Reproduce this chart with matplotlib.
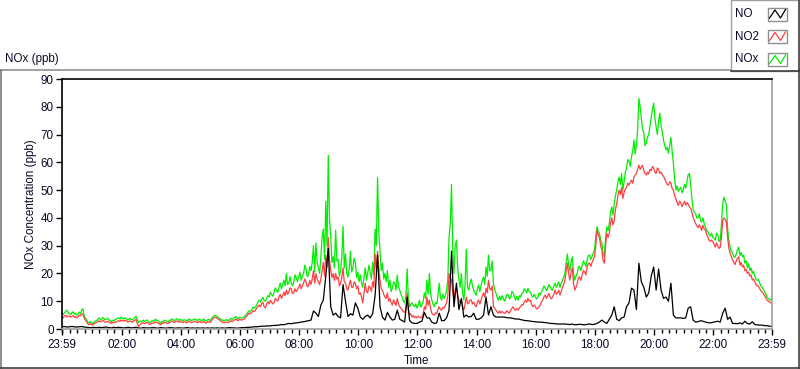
import numpy as np
import matplotlib
matplotlib.use("Agg")
import matplotlib.pyplot as plt
from matplotlib.patches import Rectangle
from matplotlib.lines import Line2D

plt.rcParams['font.family'] = ['Liberation Sans', 'DejaVu Sans']

# ---------------- data ----------------
# NOx and NO2: one row per hour, samples every 2.5 min after 23:59
# NO: one row per hour, samples every 5 min after 23:59
series_names = ["NO", "NO2", "NOx"]
series_colors = ["#000000", "#ff4040", "#00ee00"]

nox_rows = [
    [5.7, 5.2, 5.8, 6.4, 6.8, 5.9, 5.6, 5.2, 5.8, 6.2, 5.3, 5.7, 5.0, 5.4, 6.1, 5.6, 6.8, 7.3, 4.7, 4.0, 3.2, 2.5, 2.1, 2.6],
    [2.1, 1.9, 2.5, 2.9, 3.0, 3.5, 4.0, 3.4, 3.6, 4.1, 3.8, 3.3, 3.5, 3.9, 3.4, 3.0, 2.6, 3.1, 2.9, 3.4, 3.5, 3.8, 4.0, 3.6],
    [4.3, 3.9, 3.6, 4.0, 3.8, 3.2, 3.4, 3.9, 3.5, 3.2, 3.7, 4.1, 4.6, 3.4, 2.3, 2.9, 2.6, 2.9, 3.2, 2.7, 3.0, 3.3, 2.8, 2.3],
    [2.5, 3.0, 2.8, 3.2, 3.5, 3.1, 3.0, 2.5, 2.1, 2.8, 2.6, 3.2, 3.0, 2.7, 2.6, 3.0, 3.2, 3.6, 3.5, 3.0, 3.2, 3.7, 3.5, 3.1],
    [3.5, 3.2, 3.0, 3.4, 3.2, 2.9, 3.2, 3.6, 3.3, 3.0, 3.2, 3.5, 3.6, 3.3, 3.0, 3.5, 3.4, 3.0, 3.2, 3.6, 3.0, 2.8, 3.3, 3.5],
    [3.0, 3.5, 4.2, 4.6, 5.0, 4.8, 4.5, 4.0, 3.8, 3.4, 3.2, 3.0, 3.0, 3.4, 3.2, 3.0, 3.5, 3.8, 3.4, 3.9, 4.2, 4.5, 3.9, 3.7],
    [4.2, 4.0, 3.9, 4.3, 4.4, 5.0, 5.5, 6.2, 6.5, 6.4, 7.0, 7.9, 7.5, 8.0, 8.6, 9.8, 10.4, 9.7, 10.8, 11.4, 10.2, 10.0, 11.0, 12.0],
    [11.5, 13.2, 12.5, 11.8, 13.0, 14.8, 14.0, 13.2, 15.0, 16.5, 14.5, 15.8, 17.6, 15.5, 20.0, 16.0, 16.5, 18.8, 16.5, 15.5, 17.0, 19.5, 18.5, 17.0],
    [18.7, 20.5, 17.5, 19.0, 20.0, 23.0, 21.5, 18.8, 19.5, 22.5, 21.0, 24.0, 30.0, 20.5, 31.0, 24.0, 22.0, 20.0, 26.0, 33.0, 36.0, 25.0, 46.0, 30.0],
    [62.5, 40.0, 33.0, 24.0, 26.0, 22.0, 35.6, 24.5, 25.0, 19.0, 21.0, 26.0, 37.0, 22.0, 27.0, 20.0, 18.7, 21.5, 28.0, 20.5, 22.0, 25.5, 24.0, 18.5],
    [20.5, 17.0, 19.4, 16.5, 15.0, 18.5, 22.0, 17.5, 20.0, 23.0, 20.5, 18.0, 24.0, 19.5, 36.0, 30.0, 54.5, 35.0, 28.0, 21.0, 23.7, 18.0, 20.0, 17.0],
    [21.0, 15.0, 17.6, 13.5, 14.7, 17.0, 16.5, 14.0, 19.4, 15.0, 14.0, 12.5, 11.5, 10.0, 9.4, 12.0, 21.6, 11.0, 8.0, 9.0, 9.4, 8.5, 8.0, 9.0],
    [7.5, 8.5, 10.4, 8.0, 8.6, 10.0, 13.0, 11.0, 17.6, 12.5, 20.0, 13.0, 10.4, 9.0, 8.0, 9.5, 9.0, 12.0, 16.5, 11.5, 10.4, 12.5, 11.0, 12.0],
    [14.0, 18.0, 33.0, 38.0, 52.0, 28.0, 20.0, 30.0, 32.0, 22.0, 17.6, 15.0, 20.0, 13.0, 10.4, 16.0, 28.7, 15.0, 14.0, 16.5, 18.0, 15.5, 14.0, 13.0],
    [12.2, 14.5, 15.8, 13.5, 15.8, 17.5, 18.7, 16.0, 22.3, 19.0, 26.6, 21.0, 21.2, 24.5, 16.5, 14.0, 13.0, 11.5, 10.4, 11.8, 10.4, 12.0, 11.0, 10.0],
    [11.0, 12.5, 12.2, 10.8, 11.5, 13.5, 13.0, 11.5, 10.4, 11.8, 10.4, 12.0, 11.5, 12.8, 13.0, 14.5, 14.0, 13.0, 14.7, 13.5, 13.3, 12.0, 11.5, 12.5],
    [11.5, 10.8, 11.5, 13.0, 12.2, 13.5, 14.0, 15.5, 14.7, 13.8, 14.7, 16.0, 15.2, 14.2, 14.0, 15.5, 16.5, 15.0, 16.0, 17.0, 15.0, 16.5, 17.6, 18.5],
    [20.0, 24.0, 27.0, 23.0, 21.0, 24.0, 26.0, 20.0, 17.6, 19.0, 20.0, 22.5, 22.3, 21.0, 23.0, 24.5, 23.7, 22.5, 24.8, 26.5, 26.6, 25.0, 26.0, 27.5],
    [28.4, 33.0, 36.8, 35.0, 34.5, 32.0, 31.0, 27.0, 26.0, 33.0, 36.8, 35.5, 38.0, 42.0, 44.0, 41.0, 45.0, 48.0, 50.0, 53.0, 54.7, 52.0, 56.0, 50.0],
    [53.0, 56.5, 58.0, 61.0, 60.5, 58.5, 62.0, 64.0, 68.0, 63.0, 66.0, 71.6, 83.0, 80.0, 76.0, 72.0, 70.5, 66.0, 67.0, 69.0, 70.0, 73.0, 76.0, 79.0],
    [81.3, 76.0, 72.7, 70.0, 75.0, 77.7, 73.0, 71.0, 68.0, 66.0, 64.5, 65.5, 63.3, 66.0, 69.0, 64.0, 59.7, 54.0, 50.0, 51.5, 49.5, 50.5, 51.0, 49.0],
    [50.0, 52.0, 50.7, 53.0, 55.5, 56.0, 52.0, 47.0, 43.0, 42.0, 41.5, 40.0, 40.0, 41.5, 39.0, 38.5, 40.0, 38.0, 36.8, 35.5, 35.0, 34.0, 33.5, 34.5],
    [33.0, 32.5, 32.0, 34.5, 33.8, 31.5, 32.0, 38.0, 45.0, 47.5, 46.0, 44.6, 36.0, 32.0, 29.5, 28.0, 27.3, 26.0, 25.8, 27.0, 28.5, 29.5, 26.5, 27.5],
    [26.0, 26.6, 23.7, 24.5, 22.0, 23.5, 21.0, 22.0, 20.0, 20.8, 19.0, 18.0, 17.5, 17.8, 16.5, 15.5, 15.0, 14.2, 13.5, 12.5, 11.5, 11.0, 10.5, 10.4],
]
nox_end = 11.2

no2_rows = [
    [4.3, 4.0, 4.7, 4.9, 4.3, 4.6, 4.7, 4.3, 4.5, 4.8, 4.2, 4.5, 4.0, 4.4, 5.0, 4.7, 5.5, 5.2, 4.0, 3.3, 2.5, 1.9, 1.5, 1.8],
    [1.6, 1.4, 1.9, 2.2, 2.4, 2.6, 3.0, 2.6, 2.8, 3.1, 2.8, 2.5, 2.5, 2.8, 2.5, 2.3, 2.0, 2.4, 2.2, 2.6, 2.5, 2.8, 3.0, 2.7],
    [3.2, 3.0, 2.8, 3.1, 3.0, 2.6, 2.6, 2.9, 2.7, 2.4, 2.8, 3.1, 3.5, 2.2, 0.8, 1.4, 1.8, 2.1, 2.3, 1.9, 2.2, 2.4, 2.0, 1.6],
    [1.8, 2.2, 2.0, 2.4, 2.6, 2.3, 2.2, 1.8, 1.5, 2.1, 2.0, 2.4, 2.3, 2.0, 2.0, 2.4, 2.5, 2.9, 2.7, 2.3, 2.5, 2.9, 2.8, 2.4],
    [2.8, 2.5, 2.3, 2.7, 2.5, 2.2, 2.6, 2.9, 2.5, 2.3, 2.4, 2.7, 2.8, 2.5, 2.2, 2.7, 2.6, 2.3, 2.5, 2.8, 2.3, 2.1, 2.5, 2.7],
    [2.3, 2.8, 3.5, 3.9, 4.3, 4.1, 3.8, 3.4, 3.2, 2.8, 2.5, 2.3, 2.2, 2.6, 2.5, 2.3, 2.7, 3.0, 2.6, 3.0, 3.3, 3.6, 3.2, 3.0],
    [3.5, 3.3, 3.2, 3.5, 3.6, 4.2, 4.8, 5.3, 5.8, 5.5, 6.0, 6.6, 6.3, 6.9, 7.5, 8.2, 8.6, 8.0, 9.2, 9.6, 8.0, 7.6, 9.0, 9.8],
    [9.0, 10.3, 9.7, 9.0, 9.4, 11.0, 10.5, 10.0, 11.5, 12.5, 11.0, 12.0, 13.3, 12.0, 14.0, 12.5, 13.3, 14.8, 14.5, 12.8, 13.0, 14.5, 13.5, 14.2],
    [15.0, 16.2, 14.5, 15.5, 16.5, 18.0, 17.0, 15.2, 15.5, 17.5, 16.0, 18.0, 21.0, 16.5, 20.0, 18.0, 17.0, 16.0, 18.0, 21.0, 24.0, 19.0, 26.6, 22.0],
    [33.0, 25.0, 21.0, 18.5, 20.0, 17.5, 20.0, 18.0, 18.7, 15.5, 16.5, 18.5, 22.0, 17.0, 16.5, 14.5, 14.0, 16.0, 17.6, 15.0, 15.0, 17.0, 16.5, 14.5],
    [15.5, 12.5, 13.0, 11.5, 9.4, 13.0, 16.5, 13.5, 13.0, 15.5, 15.0, 13.5, 17.0, 15.0, 27.0, 22.0, 28.0, 22.0, 17.6, 14.5, 14.0, 12.5, 11.5, 11.0],
    [13.0, 10.0, 11.0, 9.5, 8.6, 10.5, 9.4, 8.5, 11.0, 9.0, 8.0, 7.5, 6.8, 6.2, 6.0, 7.0, 13.0, 7.0, 5.0, 5.5, 4.3, 4.8, 4.0, 4.5],
    [4.0, 4.6, 4.3, 4.0, 4.3, 5.5, 8.0, 7.0, 11.5, 8.5, 10.4, 7.5, 5.7, 5.2, 5.0, 5.8, 5.5, 7.0, 8.0, 7.0, 6.8, 7.8, 7.5, 8.5],
    [9.4, 12.0, 20.0, 18.5, 17.6, 13.0, 10.4, 14.0, 15.0, 12.0, 10.4, 9.5, 10.4, 8.0, 6.8, 9.0, 11.5, 9.0, 9.4, 10.5, 10.4, 9.0, 9.7, 8.5],
    [8.0, 9.5, 10.4, 9.0, 10.4, 12.0, 13.0, 11.5, 14.7, 13.0, 17.6, 14.5, 14.0, 15.5, 8.0, 7.5, 6.8, 6.2, 5.7, 6.5, 5.7, 6.3, 6.0, 5.6],
    [6.0, 6.6, 6.0, 5.7, 6.8, 7.5, 8.0, 7.0, 6.8, 7.4, 6.8, 7.6, 8.0, 8.8, 8.6, 9.8, 10.4, 9.6, 11.0, 10.0, 10.4, 8.8, 8.0, 8.6],
    [8.0, 7.2, 7.5, 8.0, 8.6, 9.8, 10.4, 11.6, 12.2, 11.0, 12.0, 12.8, 11.5, 10.8, 11.5, 12.6, 14.0, 12.5, 13.0, 14.0, 12.2, 13.5, 15.0, 16.0],
    [17.6, 21.0, 23.7, 20.0, 17.6, 20.5, 22.0, 16.5, 14.0, 15.0, 16.5, 18.5, 18.7, 17.5, 19.5, 21.0, 20.5, 19.5, 22.3, 23.5, 23.7, 22.5, 24.0, 25.0],
    [26.0, 30.0, 35.6, 34.0, 33.0, 30.0, 28.4, 24.5, 23.7, 30.0, 34.5, 33.0, 34.5, 38.0, 40.0, 37.5, 39.0, 43.0, 45.0, 48.0, 50.0, 48.5, 51.0, 47.0],
    [49.0, 50.5, 51.0, 52.5, 51.8, 52.8, 53.6, 52.5, 54.7, 55.5, 56.0, 57.5, 59.0, 57.5, 58.3, 59.0, 57.2, 56.0, 55.4, 56.5, 55.8, 57.5, 57.0, 58.5],
    [57.9, 56.5, 56.0, 58.0, 57.5, 56.0, 56.5, 55.5, 55.0, 54.0, 53.0, 52.0, 51.8, 53.0, 52.5, 50.5, 50.0, 48.0, 47.0, 45.5, 44.5, 46.0, 45.5, 44.0],
    [45.0, 46.0, 44.6, 45.5, 45.0, 44.0, 43.5, 42.0, 40.3, 39.0, 38.0, 37.2, 36.5, 37.5, 36.5, 35.5, 37.4, 36.0, 35.6, 34.0, 33.0, 32.0, 31.5, 32.0],
    [31.4, 30.5, 29.5, 31.0, 30.0, 29.0, 29.5, 33.0, 39.0, 40.0, 39.5, 38.5, 33.0, 29.0, 27.3, 26.0, 24.8, 24.0, 23.2, 24.5, 25.5, 26.0, 23.0, 24.0],
    [22.3, 23.0, 21.0, 21.5, 20.0, 20.5, 19.0, 19.5, 17.6, 18.0, 17.0, 16.0, 15.5, 15.5, 14.5, 13.8, 13.3, 12.8, 12.0, 11.2, 10.4, 10.0, 9.7, 9.4],
]
no2_end = 9.7

no_rows = [
    [0.8, 0.9, 0.7, 0.8, 0.9, 0.8, 0.7, 0.8, 0.9, 0.7, 0.6, 0.5],
    [0.5, 0.6, 0.5, 0.6, 0.5, 0.6, 0.7, 0.5, 0.4, 0.6, 0.5, 0.6],
    [0.5, 0.4, 0.5, 0.6, 0.4, 0.5, 0.6, 0.4, 0.3, 0.5, 0.4, 0.4],
    [0.4, 0.5, 0.4, 0.3, 0.5, 0.4, 0.3, 0.4, 0.5, 0.4, 0.3, 0.4],
    [0.4, 0.3, 0.4, 0.5, 0.3, 0.4, 0.3, 0.4, 0.3, 0.4, 0.3, 0.4],
    [0.3, 0.4, 0.3, 0.4, 0.3, 0.4, 0.3, 0.4, 0.5, 0.4, 0.4, 0.3],
    [0.4, 0.5, 0.5, 0.6, 0.6, 0.7, 0.8, 0.8, 0.9, 1.0, 1.0, 1.1],
    [1.1, 1.2, 1.3, 1.3, 1.4, 1.6, 1.5, 1.8, 2.0, 1.9, 2.1, 2.2],
    [2.3, 2.5, 2.6, 2.8, 3.0, 3.2, 6.5, 5.7, 4.5, 8.6, 10.4, 19.0],
    [29.0, 8.0, 5.0, 5.7, 4.5, 4.0, 16.0, 10.0, 4.5, 5.5, 5.0, 9.4],
    [7.5, 4.3, 3.5, 4.5, 5.0, 4.0, 5.5, 12.0, 26.6, 8.0, 4.3, 3.2],
    [6.0, 4.3, 3.2, 3.5, 6.8, 3.5, 3.0, 2.5, 11.5, 3.0, 2.2, 2.0],
    [2.0, 2.5, 2.8, 6.0, 4.0, 4.0, 2.5, 2.0, 2.2, 5.7, 3.0, 3.0],
    [4.0, 6.8, 28.0, 8.0, 16.5, 7.0, 11.0, 4.3, 5.0, 4.3, 4.5, 5.7],
    [3.5, 3.5, 4.0, 5.0, 11.5, 5.0, 8.0, 5.0, 4.3, 4.3, 4.3, 4.3],
    [4.2, 4.0, 4.0, 3.8, 3.6, 3.6, 3.4, 3.2, 3.0, 3.0, 2.8, 2.7],
    [2.6, 2.5, 2.5, 2.4, 2.3, 2.2, 2.0, 2.0, 1.9, 1.8, 1.8, 1.8],
    [1.8, 1.7, 1.6, 1.8, 1.5, 1.6, 1.7, 1.6, 1.5, 1.7, 1.8, 1.6],
    [1.7, 2.0, 2.5, 3.2, 2.5, 2.0, 3.5, 5.0, 8.0, 3.5, 3.0, 4.0],
    [4.3, 8.0, 9.4, 14.7, 14.0, 7.0, 23.7, 17.0, 15.0, 11.5, 13.0, 19.0],
    [22.3, 14.0, 21.6, 14.0, 11.0, 11.5, 10.0, 16.5, 5.0, 4.0, 4.0, 4.0],
    [3.8, 4.0, 7.5, 8.0, 3.2, 2.5, 2.6, 3.0, 2.8, 2.5, 2.3, 2.2],
    [2.4, 2.6, 2.8, 2.5, 5.7, 7.5, 3.5, 4.3, 2.0, 2.0, 1.9, 2.2],
    [1.8, 2.8, 2.0, 1.8, 2.6, 1.6, 1.5, 1.4, 1.4, 1.2, 1.2, 1.0],
]
no_end = 1.0

x_tick_labels = ["23:59", "02:00", "04:00", "06:00", "08:00", "10:00", "12:00",
                 "14:00", "16:00", "18:00", "20:00", "22:00", "23:59"]
y_ticks = [0, 10, 20, 30, 40, 50, 60, 70, 80, 90]

assert all(len(r) == 24 for r in nox_rows) and len(nox_rows) == 24
assert all(len(r) == 24 for r in no2_rows) and len(no2_rows) == 24
assert all(len(r) == 12 for r in no_rows) and len(no_rows) == 24

nox = [v for r in nox_rows for v in r] + [nox_end]
no2 = [v for r in no2_rows for v in r] + [no2_end]
no = [v for r in no_rows for v in r] + [no_end]

# ---------------- figure ----------------
W, H = 800, 369
fig = plt.figure(figsize=(W / 100, H / 100), dpi=100)
fig.patch.set_facecolor("white")

ax = fig.add_axes([62 / W, 40 / H, 710 / W, 250 / H])
text_color = "#0a0a28"

t_fine = np.arange(len(nox)) * 2.5
t_coarse = np.arange(len(no)) * 5.0
ax.plot(t_fine, nox, color=series_colors[2], lw=0.9)
ax.plot(t_fine, no2, color=series_colors[1], lw=0.9)
ax.plot(t_coarse, no, color=series_colors[0], lw=0.9)

ax.set_xlim(0, 1440)
ax.set_ylim(0, 90)
major = [0] + [121 + 120 * i for i in range(11)] + [1440]
ax.set_xticks(major)
ax.set_xticklabels(x_tick_labels)
ax.set_xticks([1 + 15 * k for k in range(96)], minor=True)
ax.set_yticks(y_ticks)
ax.set_yticklabels([str(v) for v in y_ticks])
ax.tick_params(axis="x", which="major", direction="out", length=4, width=1,
               pad=3, labelsize=8.4, colors="#000000", labelcolor=text_color)
ax.tick_params(axis="x", which="minor", direction="out", length=3, width=1, colors="#000000")
ax.tick_params(axis="y", direction="out", length=4, width=1, pad=2,
               labelsize=8.4, colors="#000000", labelcolor=text_color)
for side in ["top", "left"]:
    ax.spines[side].set_color("#000000")
    ax.spines[side].set_linewidth(1.2)
for side in ["right", "bottom"]:
    ax.spines[side].set_color("#a0a0a0")
    ax.spines[side].set_linewidth(1.2)

# ---------------- decorations in pixel coordinates ----------------
ov = fig.add_axes([0, 0, 1, 1], zorder=5)
ov.set_xlim(0, W)
ov.set_ylim(H, 0)
ov.axis("off")
ov.patch.set_alpha(0)

ov.add_line(Line2D([0.5, 730], [69.5, 69.5], color="#909090", lw=1.2))
ov.add_line(Line2D([0.5, 0.5], [69.5, 368.5], color="#7a7a7a", lw=1.2))
ov.add_line(Line2D([0.5, 799.5], [368.3, 368.3], color="#404040", lw=1.2))
ov.add_line(Line2D([799.4, 799.4], [70, 368.5], color="#404040", lw=1.2))

# legend box
ov.add_patch(Rectangle((730.5, 0), 69, 71, facecolor="white", edgecolor="#a0a0a0", lw=1.0))
ov.add_line(Line2D([730.5, 799.5], [71.2, 71.2], color="#404040", lw=1.2))
ov.add_line(Line2D([799.4, 799.4], [0, 71.2], color="#404040", lw=1.2))
rows = [14, 36.5, 59.5]
for name, col, yc in zip(series_names, series_colors, rows):
    ov.text(735, yc, name, ha="left", va="center", fontsize=8.4, color=text_color)
    ov.add_patch(Rectangle((767.5, yc - 6.5), 19.5, 13, facecolor="white",
                           edgecolor="#909090", lw=1.0))
    ov.add_line(Line2D([769.5, 775, 780.5, 785.5], [yc + 4, yc - 4, yc + 4, yc - 4.5],
                       color=col, lw=0.9))

ov.text(5, 59, "NOx (ppb)", ha="left", va="center", fontsize=8.4, color=text_color)
ov.text(417, 361.5, "Time", ha="center", va="center", fontsize=8.4, color=text_color)
ov.text(31, 204, "NOx Concentration (ppb)", ha="center", va="center", rotation=90,
        fontsize=8.4, color=text_color)

fig.savefig("out.png", dpi=100, facecolor="white")
